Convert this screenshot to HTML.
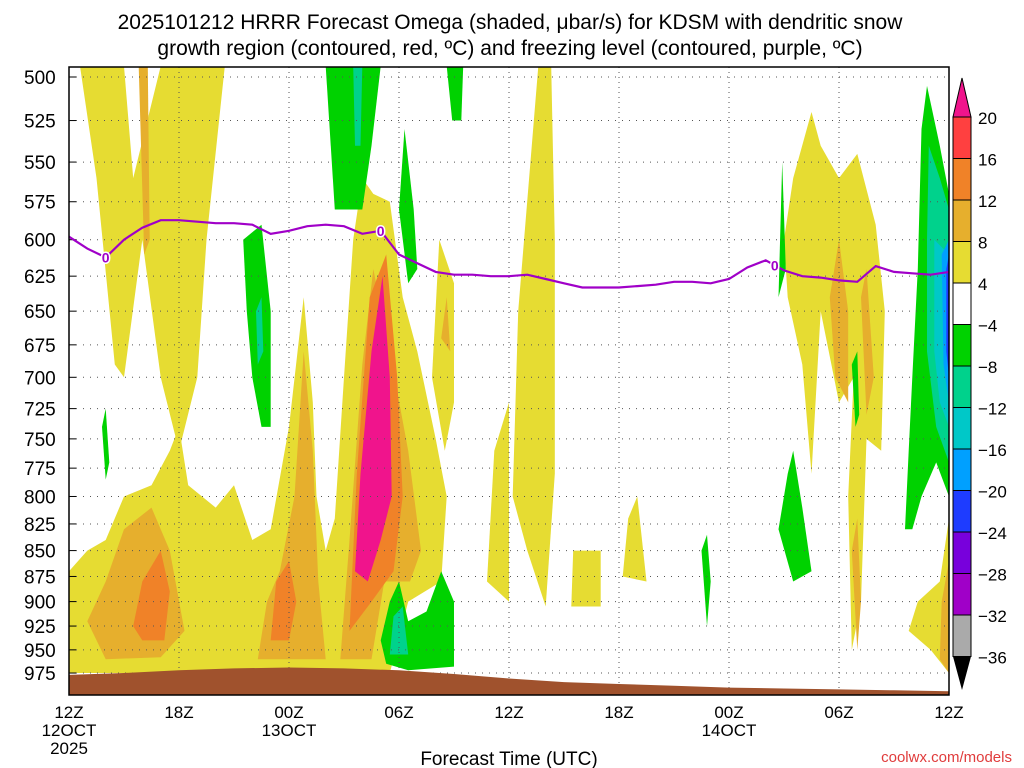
<!DOCTYPE html>
<html><head><meta charset="utf-8"><style>
body{margin:0;background:#fff;width:1024px;height:768px;overflow:hidden;font-family:"Liberation Sans",sans-serif}
svg{position:absolute;left:0;top:0}
</style></head><body>
<svg id="chart" width="1024" height="768" xmlns="http://www.w3.org/2000/svg">
<text x="510" y="29" font-size="21" text-anchor="middle" font-family="Liberation Sans, sans-serif">2025101212 HRRR Forecast Omega (shaded, μbar/s) for KDSM with dendritic snow</text>
<text x="510" y="55" font-size="21" text-anchor="middle" font-family="Liberation Sans, sans-serif">growth region (contoured, red, ºC) and freezing level (contoured, purple, ºC)</text>
<text x="509" y="765" font-size="19" text-anchor="middle">Forecast Time (UTC)</text>
<text x="1012" y="762" font-size="15" text-anchor="end" fill="#e03c3c">coolwx.com/models</text>
<g id="plot"></g>
</svg>
<script>
const pLabels=[500,525,550,575,600,625,650,675,700,725,750,775,800,825,850,875,900,925,950,975];
const tLabels=["12Z","18Z","00Z","06Z","12Z","18Z","00Z","06Z","12Z"];
const dateLabels={0:["12OCT","2025"],2:["13OCT"],6:["14OCT"]};
const levels=[20,16,12,8,4,-4,-8,-12,-16,-20,-24,-28,-32,-36];
const levelColors=["#f0148c","#ff4040","#f08228","#e6af2d","#e6dc32","#ffffff","#00d200","#00d28c","#00c8c8","#00a0ff","#1e3cff","#7800dc","#a000c8","#aaaaaa","#000000"];
const freezeLevel=[598,606,612,600,592,587,587,588,589,589,590,596,594,591,590,591,596,594,610,616,622,624,624,625,625,624,627,630,633,633,633,632,631,629,629,630,627,619,614,621,625,626,628,629,618,622,623,624,622];
const freezeLabelHours=[2,17,38.5];
const surfaceP=[977,975,972,970,969,970,972,976,981,985,987,989,991,992,993,994,995];
const omegaAreas=[
[6,[[0.6,494],[3,494],[3.5,560],[5,494],[8.5,494],[7.5,600],[7,700],[6,760],[5,700],[4,600],[3,700],[2.5,690],[1.5,560]]],
[10,[[3.8,494],[4.3,494],[4.4,600],[4.1,610]]],
[6,[[0,975],[0,870],[1,850],[2,840],[3,800],[4.5,790],[5.5,760],[6,740],[6.5,790],[8,810],[9,790],[10,840],[11,830],[12,740],[12.8,640],[13.3,720],[13.5,800],[14,850],[14.5,820],[15,700],[15.5,600],[16,560],[16.6,570],[17.5,575],[18.2,640],[19,680],[20,750],[20.6,800],[20.3,880],[18.5,900],[17.5,975]]],
[10,[[1,920],[2,880],[3,830],[4.5,810],[5.5,850],[6.3,930],[5,958],[2,960]]],
[10,[[10.3,960],[10.8,900],[11.5,870],[12.3,800],[12.8,680],[13.3,760],[13.6,880],[14,960]]],
[10,[[14.8,960],[15.3,840],[16,690],[16.6,620],[17.5,680],[18.5,760],[19.2,850],[18.6,880],[17.2,880],[16.5,960]]],
[14,[[3.5,925],[4,880],[5,850],[5.5,890],[5.2,940],[4,940]]],
[14,[[11,940],[11.3,880],[12,860],[12.4,900],[12,940]]],
[14,[[15.3,930],[15.7,780],[16.4,640],[17.3,610],[17.9,700],[18.2,800],[17.7,870],[16.5,900]]],
[22,[[15.6,870],[15.9,780],[16.5,680],[17.1,625],[17.5,700],[17.6,800],[17,840],[16.3,880]]],
[6,[[19.8,700],[20.2,600],[21,630],[21,720],[20.5,760]]],
[10,[[20.3,670],[20.6,640],[20.8,680]]],
[6,[[24.2,800],[24.5,650],[25.6,494],[26.3,494],[26.5,600],[26.5,780],[26,905],[25,850]]],
[6,[[22.8,880],[23.2,760],[24,720],[24,900]]],
[6,[[27.4,905],[27.5,850],[29,850],[29,905]]],
[6,[[30.2,875],[30.5,820],[31,800],[31.5,880]]],
[6,[[39,600],[39.5,560],[40.5,520],[41,540],[42,560],[43,545],[44,590],[44.5,650],[44.3,760],[43.5,750],[43.2,900],[42.7,950],[42.5,800],[42.8,700],[42,720],[41,650],[40.5,780],[40,690],[39.2,640]]],
[6,[[45.8,930],[46.3,900],[47.5,880],[48,820],[48,975],[47,950]]],
[10,[[47.5,960],[47.6,900],[48,860],[48,975]]],
[10,[[41.5,640],[42,600],[42.5,650],[42.5,720],[41.8,700]]],
[10,[[43.2,640],[43.5,620],[43.9,700],[43.5,730]]],
[10,[[42.7,850],[43,820],[43.2,900],[43,950]]],
[-6,[[9.5,600],[10.5,590],[11,650],[11,740],[10.5,740],[10,700],[9.7,650]]],
[-10,[[10.2,650],[10.5,640],[10.6,680],[10.3,690]]],
[-6,[[14,494],[17,494],[16.5,540],[16,580],[14.5,580]]],
[-10,[[15.5,494],[16,494],[15.9,540],[15.6,540]]],
[-6,[[18,580],[18.3,530],[18.8,580],[19,620],[18.5,630]]],
[-6,[[20.6,494],[21.5,494],[21.4,525],[20.9,525]]],
[-6,[[17,940],[17.5,900],[18,880],[18.5,920],[19.5,910],[20.3,870],[21,900],[21,968],[18.5,972],[17.3,965]]],
[-10,[[17.5,955],[17.7,915],[18.2,905],[18.5,955]]],
[-6,[[1.8,740],[2.0,725],[2.2,770],[2.0,785]]],
[-6,[[34.5,850],[34.8,835],[35,880],[34.8,925]]],
[-6,[[38.7,830],[39.2,780],[39.5,760],[40,810],[40.5,870],[39.5,880]]],
[-6,[[38.7,640],[38.9,550],[39.1,620]]],
[-6,[[42.7,690],[43,680],[43.1,730],[42.9,740]]],
[-6,[[45.6,830],[45.8,760],[46,700],[46.3,620],[46.5,530],[46.8,505],[47.5,540],[48,570],[48,800],[47.3,770],[46.5,800],[46,830]]],
[-10,[[46.9,540],[47.5,560],[48,580],[48,770],[47.3,740],[46.8,680],[46.8,600]]],
[-14,[[47.2,600],[48,610],[48,740],[47.5,720],[47.2,680]]],
[-18,[[47.6,610],[48,600],[48,720],[47.7,690]]],
[-22,[[47.85,620],[48,610],[48,700],[47.85,680]]]
];
const X0=69,X1=949,Y0=67,Y1=695;
const xs=h=>X0+h*(X1-X0)/48;
const ys=p=>77+892.5*Math.log(p/500);
const NS="http://www.w3.org/2000/svg";
const g=document.getElementById('plot');
function mk(t,a,parent){const e=document.createElementNS(NS,t);for(const k in a)e.setAttribute(k,a[k]);(parent||g).appendChild(e);return e;}
function colorFor(v){if(v>20)return levelColors[0];for(let i=0;i<levels.length-1;i++){if(v<=levels[i]&&v>levels[i+1])return levelColors[i+1];}return levelColors[14];}
const clip=mk('clipPath',{id:'pc'});mk('rect',{x:X0,y:Y0,width:X1-X0,height:Y1-Y0},clip);
const shade=mk('g',{'clip-path':'url(#pc)'});


omegaAreas.forEach((a,i)=>{
  const pts=a[1].map(q=>xs(q[0]).toFixed(1)+','+ys(q[1]).toFixed(1)).join(' ');
  const e=mk('polygon',{points:pts,fill:colorFor(a[0])},shade);
  
  
});
pLabels.forEach(p=>{
  const y=ys(p);
  const l=mk('line',{x1:X0,x2:X1,y1:y,y2:y,stroke:'#555','stroke-width':1,'stroke-dasharray':'1,6'});
  
  
  const tk=mk('line',{x1:X0,x2:X0+7,y1:y,y2:y,stroke:'#000'});
  
  
  const t=mk('text',{x:24,y:y+7,'font-size':19});t.textContent=p;
  
  
});
tLabels.forEach((s,i)=>{
  const x=xs(i*6);
  if(i>0&&i<8){const l=mk('line',{x1:x,x2:x,y1:Y0,y2:Y1,stroke:'#555','stroke-dasharray':'1,4'});
  
  }
  const t=mk('text',{x:x,y:718,'font-size':17,'text-anchor':'middle'});t.textContent=s;
  
  
  if(dateLabels[i]!==undefined){dateLabels[i].forEach((d,j)=>{
    const dt=mk('text',{x:x,y:736+j*18,'font-size':17,'text-anchor':'middle'});dt.textContent=d;
    
    });}
});
let tp='M'+X0+','+Y1;
surfaceP.forEach((p,i)=>{tp+=' L'+xs(i*3).toFixed(1)+','+ys(p).toFixed(1);});
tp+=' L'+X1+','+Y1+' Z';
const ter=mk('path',{d:tp,fill:'#a0522d'});


const fl=mk('polyline',{points:freezeLevel.map((p,h)=>xs(h).toFixed(1)+','+ys(p).toFixed(1)).join(' '),fill:'none',stroke:'#a000c8','stroke-width':2.2});


freezeLabelHours.forEach(h=>{
  const i=Math.floor(h),f=h-i;const p=freezeLevel[i]*(1-f)+freezeLevel[Math.min(i+1,48)]*f;
  const t=mk('text',{x:xs(h),y:ys(p)+5,'font-size':14,'text-anchor':'middle',fill:'#a000c8',stroke:'#fff','stroke-width':3,'paint-order':'stroke','font-weight':'bold'});t.textContent='0';
  
  
});
const fr=mk('rect',{x:X0,y:Y0,width:X1-X0,height:Y1-Y0,fill:'none',stroke:'#000','stroke-width':1.5});


const cbx=953,cbw=18,cbTop=117,step=41.5;
const cb=mk('g',{});


const tri=mk('polygon',{points:`${cbx},${cbTop} ${cbx+cbw},${cbTop} ${cbx+cbw/2},78`,fill:levelColors[0],stroke:'#000'},cb);


for(let i=0;i<levels.length-1;i++){
  const r=mk('rect',{x:cbx,y:cbTop+i*step,width:cbw,height:step,fill:levelColors[i+1],stroke:'#000'},cb);
  
  
}
const bt=cbTop+(levels.length-1)*step;
const tri2=mk('polygon',{points:`${cbx},${bt} ${cbx+cbw},${bt} ${cbx+cbw/2},690`,fill:'#000'},cb);


levels.forEach((v,i)=>{
  const t=mk('text',{x:978,y:cbTop+i*step+7,'font-size':17},cb);t.textContent=v<0?'\u2212'+(-v):v;
  
  
});
</script>
</body></html>
